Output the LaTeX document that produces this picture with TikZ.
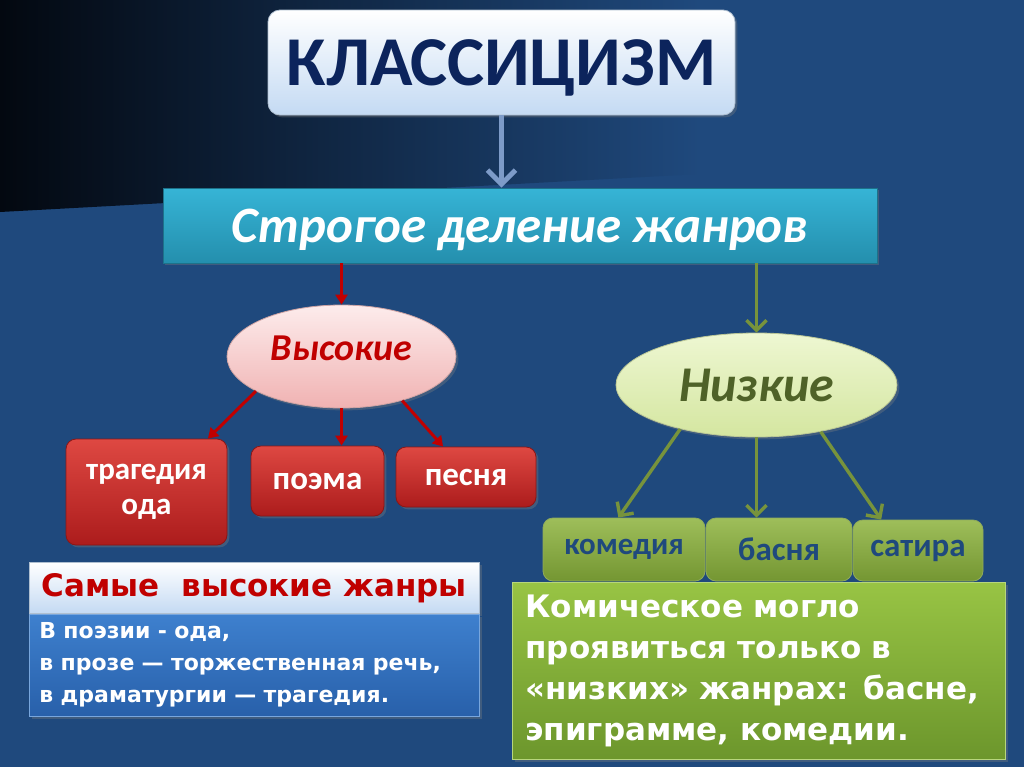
\documentclass[tikz,border=0pt]{standalone}
\usepackage{fontspec}
\setmainfont{Carlito}
\newfontfamily\dejavu{DejaVu Sans}
\usetikzlibrary{arrows.meta,shapes.geometric,shadows}

\definecolor{navy}{RGB}{31,73,125}
\definecolor{darkbg}{RGB}{3,8,16}
\definecolor{titleblue}{RGB}{12,36,92}
\definecolor{paleblue}{RGB}{196,218,243}
\definecolor{arrowblue}{RGB}{125,155,200}
\definecolor{cyantop}{RGB}{54,180,214}
\definecolor{cyanbot}{RGB}{36,143,173}
\definecolor{darkred}{RGB}{192,0,0}
\definecolor{redtop}{RGB}{222,72,66}
\definecolor{redbot}{RGB}{172,28,28}
\definecolor{pinktop}{RGB}{253,236,236}
\definecolor{pinkbot}{RGB}{240,178,178}
\definecolor{olive}{RGB}{119,147,60}
\definecolor{darkolive}{RGB}{79,98,40}
\definecolor{limetop}{RGB}{238,247,210}
\definecolor{limebot}{RGB}{212,230,160}
\definecolor{greentop}{RGB}{158,190,90}
\definecolor{greenbot}{RGB}{116,150,50}
\definecolor{bigtop}{RGB}{152,196,68}
\definecolor{bigbot}{RGB}{108,150,44}
\definecolor{bluetop}{RGB}{62,128,206}
\definecolor{bluebot}{RGB}{40,96,170}

\begin{document}
\begin{tikzpicture}[x=0.5pt,y=-0.5pt,
  shadowed/.style={drop shadow={shadow xshift=1.2pt,shadow yshift=-1.2pt,opacity=0.35}},
  titlebox/.style={shadowed,rounded corners=6pt,top color=white,bottom color=paleblue,draw=paleblue!70!gray,
    text=titleblue,font=\bfseries\fontsize{35}{40}\selectfont,minimum width=233.5pt,minimum height=52.5pt,text depth=-3pt},
  cyanbox/.style={shadowed,top color=cyantop,bottom color=cyanbot,draw=cyanbot!80!black,text=white,
    font=\bfseries\itshape\fontsize{25.5}{28}\selectfont,minimum width=357pt,minimum height=37.5pt,text depth=0pt},
  highoval/.style={ellipse,shadowed,top color=pinktop,bottom color=pinkbot,draw=pinkbot!70!gray,text=darkred,
    font=\bfseries\itshape\fontsize{19}{22}\selectfont,inner sep=0pt,text depth=8pt},
  lowoval/.style={ellipse,shadowed,top color=limetop,bottom color=limebot,draw=limebot!70!gray,text=darkolive,
    font=\bfseries\itshape\fontsize{25}{28}\selectfont,inner sep=0pt},
  redbox/.style={shadowed,rounded corners=5pt,top color=redtop,bottom color=redbot,draw=redbot!80!black,text=white,
    font=\bfseries\fontsize{16.5}{17.5}\selectfont,align=center,inner sep=0pt},
  greenbox/.style={rounded corners=5pt,top color=greentop,bottom color=greenbot,draw=greenbot!80!white,text=navy,
    font=\bfseries\fontsize{16.5}{18}\selectfont,inner sep=0pt},
  redarrow/.style={draw=darkred,line width=1.5pt,-{Triangle[length=5pt,width=6pt]}},
  greenarrow/.style={draw=olive,line width=1.7pt,-{Straight Barb[length=5pt,width=10pt,line width=1.7pt]}}]

  \useasboundingbox (0,0) rectangle (1024,767);
  \fill[navy] (0,0) rectangle (1024,767);
  \shade[left color=darkbg,right color=navy] (0,0) -- (700,0) -- (700,174) -- (0,212) -- cycle;

  \node[titlebox] (klass) at (501.5,62.5) {КЛАССИЦИЗМ};
  \node[cyanbox] (delenie) at (520,225.5) {Строгое деление жанров};
  \draw[arrowblue,line width=2.5pt,-{Straight Barb[length=7pt,width=14pt,line width=2.5pt]}]
    (klass.south) -- (klass.south |- delenie.north);

  \node[highoval,minimum width=114.5pt,minimum height=51.5pt] (vysokie) at (341.5,356.5) {Высокие};
  \node[lowoval,minimum width=140.5pt,minimum height=52pt] (nizkie) at (756.5,385) {Низкие};
  \draw[redarrow] (delenie.south -| vysokie.north) -- (vysokie.north);
  \draw[greenarrow] (delenie.south -| nizkie.north) -- (nizkie.north);

  \node[redbox,minimum width=80.5pt,minimum height=53pt,font=\bfseries\fontsize{15.5}{17.5}\selectfont] (tragedia) at (146.5,492) {трагедия\\ода};
  \node[redbox,minimum width=66.5pt,minimum height=35pt] (poema) at (317.5,481) {поэма};
  \node[redbox,minimum width=70pt,minimum height=30pt] (pesnya) at (466,477) {песня};
  \draw[redarrow] (vysokie.202) -- (tragedia.41);
  \draw[redarrow] (vysokie.south) -- (vysokie.south |- poema.north);
  \draw[redarrow] (vysokie.-36) -- (pesnya.127);

  \node[greenbox,minimum width=81pt,minimum height=31.5pt,font=\bfseries\fontsize{15.5}{18}\selectfont] (komedia) at (624,549.5) {комедия};
  \node[greenbox,minimum width=73pt,minimum height=31.5pt] (basnya) at (779,549.5) {басня};
  \node[greenbox,minimum width=65pt,minimum height=30.5pt] (satira) at (918,550.5) {сатира};
  \draw[greenarrow] (nizkie.210) -- (komedia.100);
  \draw[greenarrow] (nizkie.south) -- (nizkie.south |- basnya.north);
  \draw[greenarrow] (nizkie.-36) -- (satira.140);

  \node[shadowed,top color=white,bottom color=paleblue,draw=paleblue!70!gray,text=darkred,
    font=\dejavu\bfseries\fontsize{15.5}{18}\selectfont,minimum width=225pt,minimum height=25.5pt,
    anchor=north west,inner xsep=5.5pt] (zhanry) at (29,562) {Самые~ высокие жанры};
  \node[shadowed,top color=bluetop,bottom color=bluebot,draw=bluetop!70!white,text=white,
    font=\dejavu\bfseries\fontsize{11}{16}\selectfont,minimum width=225pt,minimum height=51pt,
    text width=215pt,align=left,inner xsep=5pt,anchor=north] (poezia) at (zhanry.south)
    {В поэзии - ода,\\в прозе — торжественная речь,\\в драматургии — трагедия.};

  \node[shadowed,top color=bigtop,bottom color=bigbot,draw=bigtop!70!white,text=white,
    font=\dejavu\bfseries\fontsize{15.5}{20.5}\selectfont,minimum width=246.5pt,minimum height=88.5pt,
    text width=233.5pt,align=left,inner xsep=6.5pt,anchor=north west] (komich) at (512,582)
    {Комическое могло\\проявиться только в\\«низких» жанрах: басне,\\эпиграмме, комедии.};
\end{tikzpicture}
\end{document}
